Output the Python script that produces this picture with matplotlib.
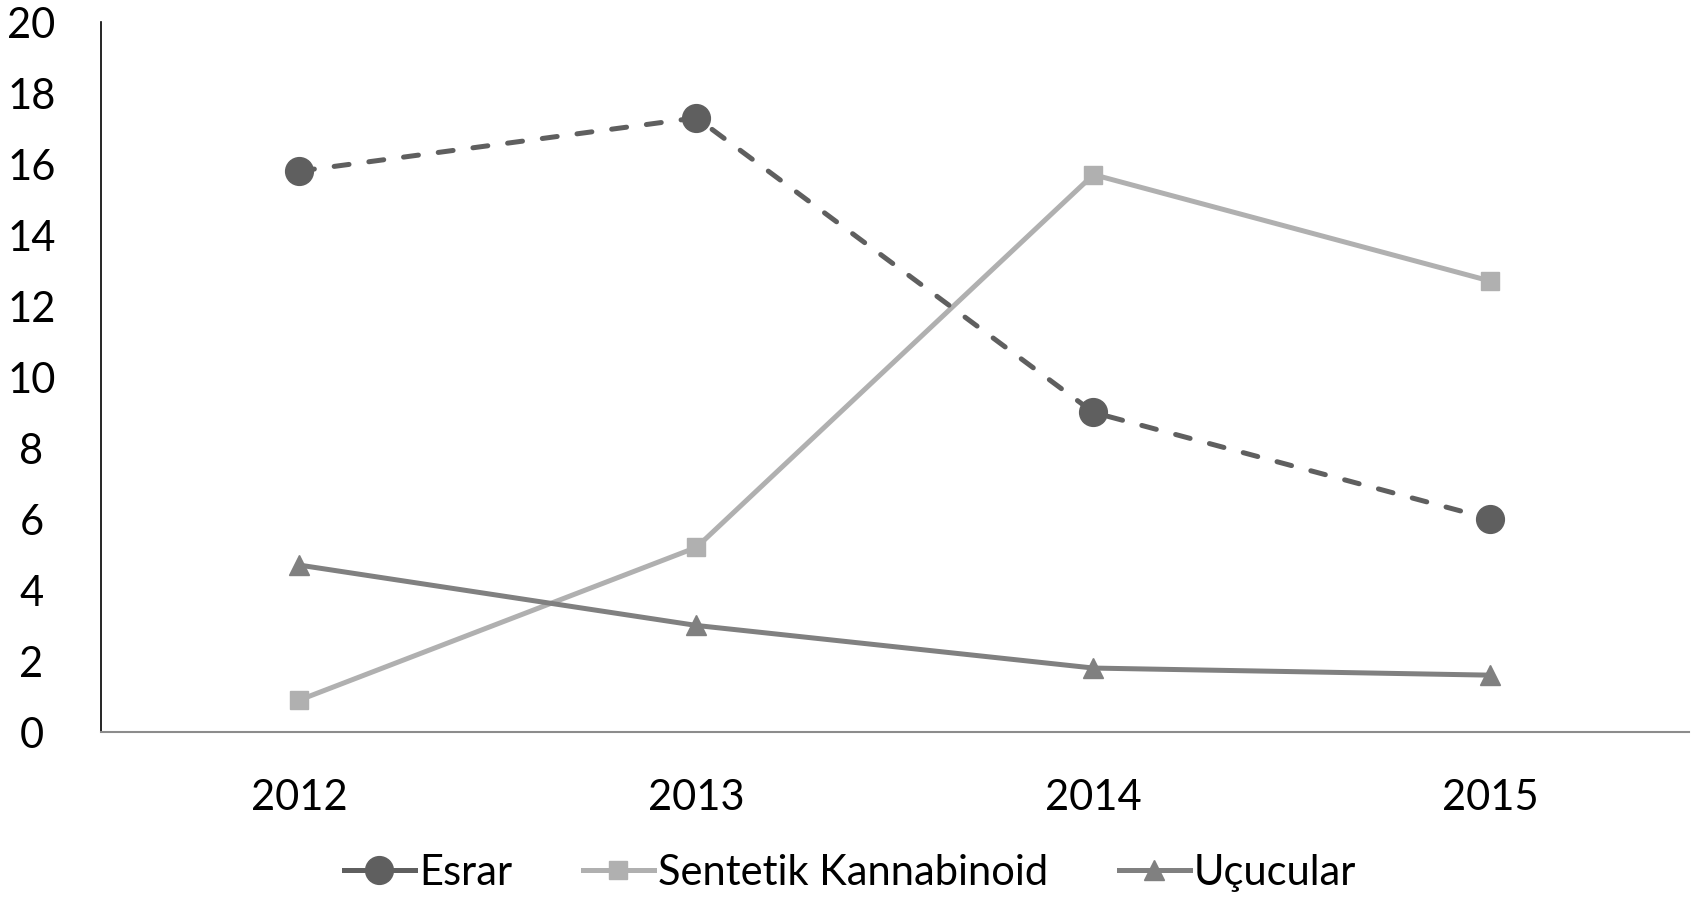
import matplotlib
matplotlib.use("Agg")
import matplotlib.pyplot as plt
from matplotlib.lines import Line2D
import numpy as np

plt.rcParams["font.family"] = ["Lato", "DejaVu Sans"]

years = ["2012", "2013", "2014", "2015"]
esrar = [15.8, 17.3, 9.0, 6.0]
sentetik = [0.9, 5.2, 15.7, 12.7]
ucucular = [4.7, 3.0, 1.8, 1.6]
series_names = ["Esrar", "Sentetik Kannabinoid", "Uçucular"]

x = np.arange(len(years))

fig = plt.figure(figsize=(17, 9.04), dpi=100)
ax = fig.add_axes([0.0594, 0.1892, 0.9341, 0.7854])

l1, = ax.plot(x, esrar, color="#5f5f5f", lw=3.6, dashes=(3.0, 4.0),
              dash_capstyle="round", marker="o", markersize=20,
              label=series_names[0], zorder=3)
l2, = ax.plot(x, sentetik, color="#b0b0b0", lw=3.6, marker="s", markersize=13,
              label=series_names[1], zorder=2)
l3, = ax.plot(x, ucucular, color="#808080", lw=3.6, marker="^", markersize=15,
              label=series_names[2], zorder=2)

ax.set_xlim(-0.5, 3.5)
ax.set_ylim(0, 20)
ax.set_yticks(range(0, 21, 2))
ax.set_xticks(x)
ax.set_xticklabels(years)
ax.tick_params(axis="both", length=0, labelsize=30)
ax.tick_params(axis="y", pad=50)
for lab in ax.get_yticklabels():
    lab.set_horizontalalignment("center")
ax.tick_params(axis="x", pad=33)

ax.spines["top"].set_visible(False)
ax.spines["right"].set_visible(False)
ax.spines["left"].set_color("black")
ax.spines["left"].set_linewidth(1.2)
ax.spines["bottom"].set_color("#8c8c8c")
ax.spines["bottom"].set_linewidth(1.5)

# legend handle for Esrar drawn solid, as in the original
h1 = Line2D([], [], color="#5f5f5f", lw=3.6, marker="o", markersize=20)
fig.legend([h1, l2, l3], series_names, loc="center",
           bbox_to_anchor=(0.5, 0.034), ncol=3, frameon=False,
           fontsize=30, handlelength=1.7, handletextpad=0.1,
           columnspacing=1.7)

plt.savefig("out.png", dpi=100)
